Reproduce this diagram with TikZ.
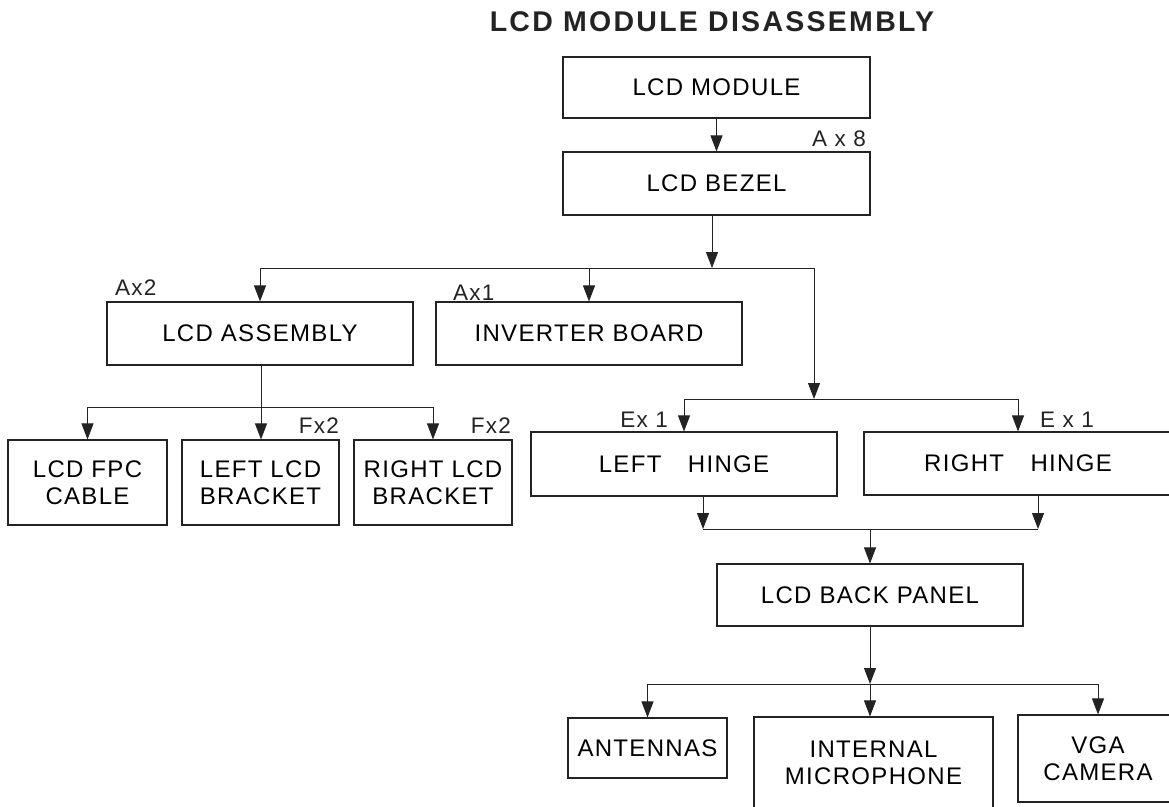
\documentclass[tikz,border=0pt]{standalone}
\usepackage{fontspec}
\setmainfont{Liberation Sans}
\newfontfamily\spacedsans[LetterSpace=5.5]{Liberation Sans}
\newfontfamily\titlesans[LetterSpace=8]{Liberation Sans}
\usetikzlibrary{positioning,calc}
\usetikzlibrary{arrows.meta}
\definecolor{InkGray}{RGB}{35,35,35}
\newcommand\boxfont{\spacedsans\fontsize{24}{27}\selectfont}
\newcommand\qtyfont{\spacedsans\fontsize{22.5}{26}\selectfont}
\newcommand\titlefont{\titlesans\bfseries\fontsize{28.5}{32}\selectfont}
\tikzset{
	part/.style={draw=InkGray,line width=1.1pt,inner sep=0pt,align=center,font=\boxfont},
	link/.style={draw=InkGray,line width=0.9pt},
	feed/.style={link,-{Triangle[length=16pt,width=12pt]}},
	qty/.style={inner sep=0pt,text=InkGray,font=\qtyfont},
}
\begin{document}
\begin{tikzpicture}[x=1pt,y=-1pt]
	\useasboundingbox (0,0) rectangle (1169,806);
	\node[anchor=base,inner sep=0pt,text=InkGray,font=\titlefont] (t) at (712,31) {LCD MODULE DISASSEMBLY};
	\node[part,minimum width=307pt,minimum height=61pt] (m) at (716.5,87.5) {LCD MODULE};
	\node[part,minimum width=307pt,minimum height=63pt] (bz) at (716.5,183.5) {LCD BEZEL};
	\node[part,minimum width=306pt,minimum height=63pt] (as) at (260,333.5) {LCD ASSEMBLY};
	\node[part,minimum width=306pt,minimum height=63pt] (ib) at (589,333.5) {INVERTER BOARD};
	\node[part,minimum width=159pt,minimum height=85pt] (fpc) at (87.5,482.5) {LCD FPC\\CABLE};
	\node[part,minimum width=157pt,minimum height=85pt] (lb) at (260.5,482.5) {LEFT LCD\\BRACKET};
	\node[part,minimum width=158pt,minimum height=85pt] (rb) at (433,482.5) {RIGHT LCD\\BRACKET};
	\node[part,minimum width=306pt,minimum height=64pt] (lh) at (684,464) {LEFT\hspace{1.1em}HINGE};
	\node[part,minimum width=308pt,minimum height=63pt] (rh) at (1018,463.5) {RIGHT\hspace{1.1em}HINGE};
	\node[part,minimum width=306pt,minimum height=62pt] (bp) at (870,595) {LCD BACK PANEL};
	\node[part,minimum width=159pt,minimum height=60pt] (ant) at (647.5,748) {ANTENNAS};
	\node[part,minimum width=239pt,minimum height=91pt] (mic) at (873.5,762.5) {INTERNAL\\MICROPHONE};
	\node[part,minimum width=160pt,minimum height=87pt] (cam) at (1098,758.5) {VGA\\CAMERA};
	\node[qty,anchor=base east] (q8) at (866,146) {A x 8};
	\node[qty,anchor=base west] (qa2) at (115,295) {Ax2};
	\node[qty,anchor=base west] (qa1) at (453,300) {Ax1};
	\node[qty,anchor=base east] (qf1) at (339,433) {Fx2};
	\node[qty,anchor=base east] (qf2) at (511,433) {Fx2};
	\node[qty,anchor=base east] (qe1) at (668,427) {Ex 1};
	\node[qty,anchor=base west] (qe2) at (1040,427) {E x 1};
	\coordinate (top) at (712,268);
	\coordinate (hb) at (814,399);
	\coordinate (sb) at (261,407);
	\coordinate (ld) at (703,529);
	\coordinate (rd) at (1038,529);
	\coordinate (low) at (870,684);
	\draw[feed] (m) -- (bz);
	\draw[feed] (bz.south -| top) -- (top);
	\draw[link] (top -| as.north) -- (top -| hb);
	\draw[feed] (top -| as.north) -- (as);
	\draw[feed] (top -| ib.north) -- (ib);
	\draw[feed] (top -| hb) -- (hb);
	\draw[link] (hb -| lh.north) -- (hb -| rh.north);
	\draw[feed] (hb -| lh.north) -- (lh);
	\draw[feed] (hb -| rh.north) -- (rh);
	\draw[feed] (as.south -| sb) -- (lb.north -| sb);
	\draw[link] (sb -| fpc.north) -- (sb -| rb.north);
	\draw[feed] (sb -| fpc.north) -- (fpc);
	\draw[feed] (sb -| rb.north) -- (rb);
	\draw[feed] (lh.south -| ld) -- (ld);
	\draw[feed] (rh.south -| rd) -- (rd);
	\draw[link] (ld) -- (rd);
	\draw[feed] (ld -| bp.north) -- (bp);
	\draw[feed] (bp) -- (low);
	\draw[link] (low -| ant.north) -- (low -| cam.north);
	\draw[feed] (low -| ant.north) -- (ant);
	\draw[feed] (low) -- (low |- mic.north);
	\draw[feed] (low -| cam.north) -- (cam);
\end{tikzpicture}
\end{document}
